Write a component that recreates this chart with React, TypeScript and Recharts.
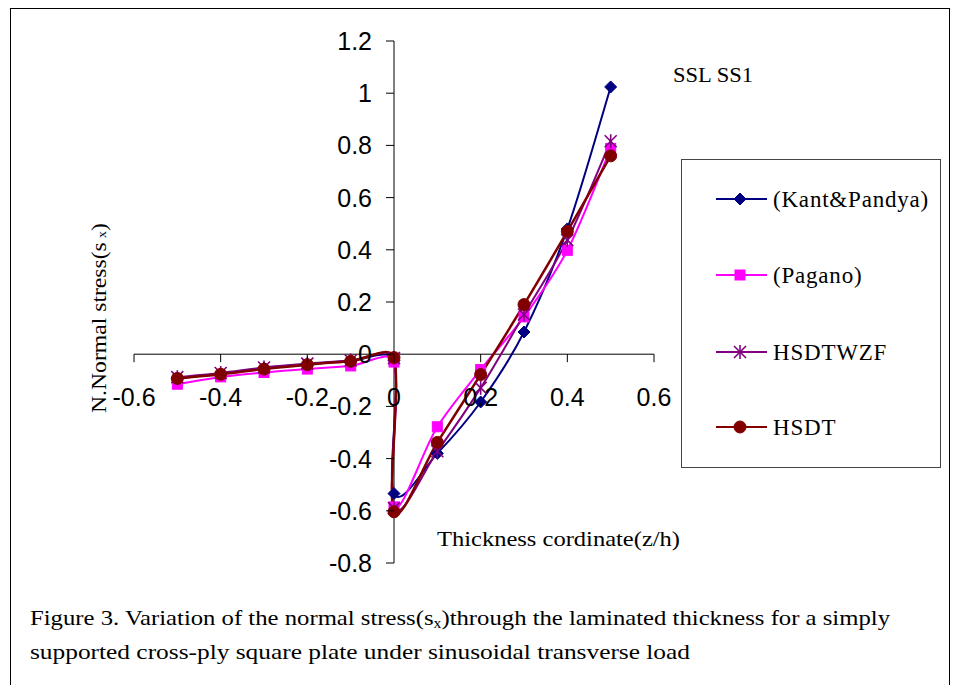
import React from 'react';
import { LineChart, Line, XAxis, YAxis, ReferenceLine, Legend } from 'recharts';

// ---------- data ----------
const zKant = [-0.5, -0.4, -0.3, -0.2, -0.1, 0, 0, 0.1, 0.2, 0.3, 0.4, 0.5];
const sKant = [-0.092, -0.075, -0.053, -0.039, -0.026, -0.025, -0.534, -0.38, -0.183, 0.085, 0.48, 1.024];

const zPagano = [-0.5, -0.4, -0.3, -0.2, -0.1, 0, 0, 0.1, 0.2, 0.3, 0.4, 0.5];
const sPagano = [-0.115, -0.087, -0.07, -0.057, -0.045, -0.03, -0.585, -0.278, -0.059, 0.143, 0.398, 0.788];

const zHsdtwzf = [-0.5, -0.4, -0.3, -0.2, -0.1, 0, 0, 0.1, 0.2, 0.3, 0.4, 0.5];
const sHsdtwzf = [-0.088, -0.072, -0.051, -0.036, -0.024, -0.015, -0.59, -0.372, -0.129, 0.152, 0.437, 0.816];

const zHsdt = [-0.5, -0.4, -0.3, -0.2, -0.1, 0, 0, 0.1, 0.2, 0.3, 0.4, 0.5];
const sHsdt = [-0.093, -0.077, -0.057, -0.04, -0.027, -0.013, -0.604, -0.338, -0.078, 0.19, 0.471, 0.76];

const xTicks = [-0.6, -0.4, -0.2, 0, 0.2, 0.4, 0.6];
const yTicks = [-0.8, -0.6, -0.4, -0.2, 0, 0.2, 0.4, 0.6, 0.8, 1, 1.2];

const seriesNames = ['(Kant&Pandya)', '(Pagano)', 'HSDTWZF', 'HSDT'];
const seriesColors = ['#000080', '#FF00FF', '#800080', '#800000'];
const seriesMarkers = ['diamond', 'square', 'star', 'circle'];

const xLabel = 'Thickness cordinate(z/h)';
const yLabel = 'N.Normal stress(s';
const noteText = 'SSL SS1';
const captionA = 'Figure 3. Variation of the normal stress(s';
const captionB = ')through the laminated thickness for a simply';
const captionLine2 = 'supported cross-ply square plate under sinusoidal transverse load';

const toRows = (zs: number[], ss: number[]) => zs.map((z, i) => ({ x: z, y: ss[i] }));
const seriesData = [
  toRows(zKant, sKant),
  toRows(zPagano, sPagano),
  toRows(zHsdtwzf, sHsdtwzf),
  toRows(zHsdt, sHsdt),
];

// ---------- layout ----------
const W = 953;
const H = 685;
const M = { top: 41, right: 299, bottom: 121, left: 133 };
const AX_H = 1;
const AX_W = 1;
const X_MIN = -0.6, X_MAX = 0.6, Y_MIN = -0.8, Y_MAX = 1.2;
const PLOT_L = M.left + AX_W;
const PLOT_W = W - PLOT_L - M.right;
const PLOT_H = H - M.top - M.bottom - AX_H;
const X0 = PLOT_L + ((0 - X_MIN) / (X_MAX - X_MIN)) * PLOT_W; // pixel of z = 0
const Y0 = M.top + ((Y_MAX - 0) / (Y_MAX - Y_MIN)) * PLOT_H; // pixel of s = 0

const SANS = 'Liberation Sans, Arial, sans-serif';
const SERIF = 'Liberation Serif, Times New Roman, Times, serif';

// Excel-like smooth curve (Catmull-Rom style bezier with limited handles)
const smoothCurve: any = (context: any) => {
  let pts: number[][] = [];
  const limit = (dx: number, dy: number, maxLen: number) => {
    const len = Math.hypot(dx, dy);
    if (len > maxLen && len > 0) {
      const k = maxLen / len;
      return [dx * k, dy * k];
    }
    return [dx, dy];
  };
  return {
    areaStart() {},
    areaEnd() {},
    lineStart() {
      pts = [];
    },
    point(x: number, y: number) {
      pts.push([+x, +y]);
    },
    lineEnd() {
      if (!pts.length) return;
      context.moveTo(pts[0][0], pts[0][1]);
      const t = 1 / 6;
      for (let i = 0; i < pts.length - 1; i++) {
        const p0 = pts[i - 1] || pts[i];
        const p1 = pts[i];
        const p2 = pts[i + 1];
        const p3 = pts[i + 2] || p2;
        const seg = Math.hypot(p2[0] - p1[0], p2[1] - p1[1]);
        const h1 = limit((p2[0] - p0[0]) * t, (p2[1] - p0[1]) * t, seg * 0.33);
        const h2 = limit((p3[0] - p1[0]) * t, (p3[1] - p1[1]) * t, seg * 0.33);
        context.bezierCurveTo(p1[0] + h1[0], p1[1] + h1[1], p2[0] - h2[0], p2[1] - h2[1], p2[0], p2[1]);
      }
    },
  };
};

const Marker = ({ kind, cx, cy, color }: { kind: string; cx: number; cy: number; color: string }) => {
  if (kind === 'diamond') {
    const r = 6;
    return <path d={`M${cx},${cy - r}L${cx + r},${cy}L${cx},${cy + r}L${cx - r},${cy}Z`} fill={color} stroke={color} />;
  }
  if (kind === 'square') {
    const r = 5;
    return <rect x={cx - r} y={cy - r} width={2 * r} height={2 * r} fill={color} stroke={color} />;
  }
  if (kind === 'star') {
    const r = 6;
    return (
      <g stroke={color} strokeWidth={1.6}>
        <line x1={cx - r} y1={cy - r} x2={cx + r} y2={cy + r} />
        <line x1={cx - r} y1={cy + r} x2={cx + r} y2={cy - r} />
        <line x1={cx} y1={cy - r - 1} x2={cx} y2={cy + r + 1} />
      </g>
    );
  }
  return <circle cx={cx} cy={cy} r={6} fill={color} stroke={color} />;
};

const makeDot = (kind: string, color: string) => (props: any) => {
  const { cx, cy, index } = props;
  if (cx == null || cy == null) return <g key={`n-${kind}-${index}`} />;
  return (
    <g key={`${kind}-${index}`}>
      <Marker kind={kind} cx={cx} cy={cy} color={color} />
    </g>
  );
};

const fmt = (v: number) => String(Math.round(v * 10) / 10);

const XTick = (props: any) => {
  const { x, payload } = props;
  return (
    <g>
      <line x1={x} x2={x} y1={Y0} y2={Y0 + 8} stroke="#000" strokeWidth={1} />
      <text x={x} y={Y0 + 52} textAnchor="middle" fontFamily={SANS} fontSize={25} fill="#000">
        {fmt(payload.value)}
      </text>
    </g>
  );
};

const YTick = (props: any) => {
  const { y, payload } = props;
  return (
    <g>
      <line x1={X0 - 8} x2={X0} y1={y} y2={y} stroke="#000" strokeWidth={1} />
      <text x={X0 - 22} y={y + 9} textAnchor="end" fontFamily={SANS} fontSize={25} fill="#000">
        {fmt(payload.value)}
      </text>
    </g>
  );
};

const LegendBox = () => {
  const rowY = [40, 116, 193, 268];
  return (
    <svg width={260} height={309} style={{ display: 'block' }}>
      <rect x={0.5} y={0.5} width={259} height={308} fill="#fff" stroke="#444" strokeWidth={1} />
      {seriesNames.map((name, i) => (
        <g key={name}>
          <line x1={35} x2={86} y1={rowY[i]} y2={rowY[i]} stroke={seriesColors[i]} strokeWidth={2} />
          <Marker kind={seriesMarkers[i]} cx={59} cy={rowY[i]} color={seriesColors[i]} />
          <text x={92} y={rowY[i] + 8} fontFamily={SERIF} fontSize={23} letterSpacing={0.8} fill="#000">
            {name}
          </text>
        </g>
      ))}
    </svg>
  );
};

export default function App() {
  return (
    <div style={{ position: 'fixed', left: 0, top: 0, width: W, height: H, background: '#fff', overflow: 'hidden' }}>
      <div
        style={{
          position: 'absolute',
          left: 10,
          top: 8,
          width: 940,
          height: 720,
          border: '1px solid #000',
          boxSizing: 'border-box',
        }}
      />
      <div style={{ position: 'absolute', left: 0, top: 0 }}>
        <LineChart width={W} height={H} margin={M}>
          <XAxis
            type="number"
            dataKey="x"
            domain={[X_MIN, X_MAX]}
            ticks={xTicks}
            height={AX_H}
            axisLine={false}
            tickLine={false}
            tick={<XTick />}
            interval={0}
          />
          <YAxis
            type="number"
            dataKey="y"
            domain={[Y_MIN, Y_MAX]}
            ticks={yTicks}
            width={AX_W}
            axisLine={false}
            tickLine={false}
            tick={<YTick />}
            interval={0}
          />
          <ReferenceLine y={0} stroke="#000" strokeWidth={1} />
          <ReferenceLine x={0} stroke="#000" strokeWidth={1} />
          {seriesData.map((d, i) => (
            <Line
              key={seriesNames[i]}
              data={d}
              dataKey="y"
              name={seriesNames[i]}
              type={smoothCurve}
              stroke={seriesColors[i]}
              strokeWidth={i === 3 ? 2.5 : 2}
              dot={makeDot(seriesMarkers[i], seriesColors[i])}
              activeDot={false}
              isAnimationActive={false}
            />
          ))}
          <Legend
            layout="vertical"
            align="center"
            verticalAlign="middle"
            content={<LegendBox />}
            wrapperStyle={{ left: 681, top: 159, width: 260, height: 309 }}
          />
        </LineChart>
      </div>
      <svg width={W} height={H} style={{ position: 'absolute', left: 0, top: 0, pointerEvents: 'none' }}>
        <text
          transform="translate(106,413) rotate(-90)"
          fontFamily={SERIF}
          fontSize={22}
          fill="#000"
          textLength={190}
          lengthAdjust="spacingAndGlyphs"
        >
          {yLabel}
          <tspan fontSize={13} dx={4}>x</tspan>
          <tspan>)</tspan>
        </text>
        <text x={437} y={546} fontFamily={SERIF} fontSize={22} fill="#000" textLength={243} lengthAdjust="spacingAndGlyphs">
          {xLabel}
        </text>
        <text x={673} y={82} fontFamily={SERIF} fontSize={22} fill="#000" textLength={80} lengthAdjust="spacingAndGlyphs">
          {noteText}
        </text>
        <text x={30} y={625} fontFamily={SERIF} fontSize={22} fill="#000" textLength={860} lengthAdjust="spacingAndGlyphs">
          {captionA}
          <tspan fontSize={14} dy={3}>x</tspan>
          <tspan dy={-3}>{captionB}</tspan>
        </text>
        <text x={30} y={659} fontFamily={SERIF} fontSize={22} fill="#000" textLength={660} lengthAdjust="spacingAndGlyphs">
          {captionLine2}
        </text>
      </svg>
    </div>
  );
}
